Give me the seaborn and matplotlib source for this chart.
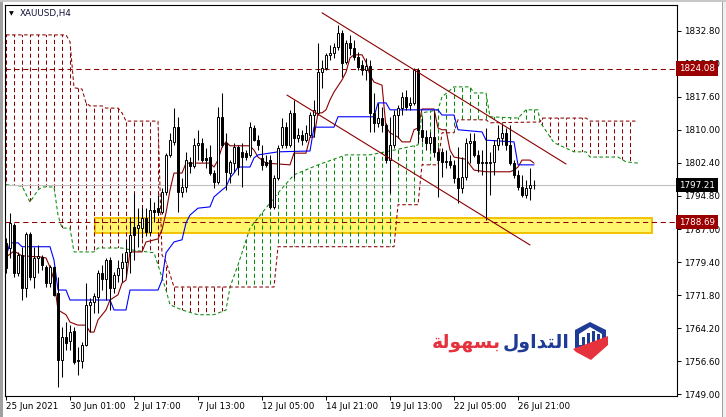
import numpy as np
import matplotlib
matplotlib.use('Agg')
import matplotlib.pyplot as plt
import matplotlib.transforms as mtransforms
from matplotlib.patches import Polygon, Rectangle
from matplotlib.collections import LineCollection
import seaborn as sns

# ---------------- data (XAUUSD H4, bar 0 = 25 Jun 2021) ----------------
opens = [1783.9, 1782.7, 1788.0, 1777.0, 1781.1, 1773.5, 1786.0, 1776.0, 1780.4, 1780.6,
         1778.3, 1774.6, 1778.3, 1772.3, 1756.9, 1762.2, 1761.3, 1763.6, 1756.9, 1756.6,
         1760.3, 1769.6, 1770.3, 1771.4, 1777.0, 1775.6, 1779.9, 1773.5, 1776.5, 1778.1,
         1779.5, 1781.8, 1787.6, 1787.3, 1787.3, 1789.6, 1786.4, 1791.5, 1792.0, 1791.0,
         1795.6, 1804.2, 1807.2, 1810.6, 1795.6, 1796.8, 1802.6, 1801.7, 1806.5, 1807.0,
         1803.5, 1803.7, 1800.0, 1797.9, 1813.0, 1807.0, 1800.0, 1802.3, 1806.0, 1804.9,
         1804.6, 1804.2, 1810.4, 1807.6, 1803.5, 1802.6, 1803.0, 1792.2, 1798.9, 1806.5,
         1810.6, 1806.5, 1813.9, 1808.1, 1808.8, 1807.6, 1808.8, 1813.4, 1813.9, 1823.3,
         1824.3, 1827.3, 1827.7, 1829.1, 1832.3, 1825.6, 1830.0, 1828.9, 1826.8, 1825.0,
         1823.8, 1824.7, 1813.9, 1811.6, 1812.7, 1811.1, 1803.0, 1806.5, 1813.4, 1815.0,
         1817.6, 1815.7, 1816.2, 1823.8, 1810.0, 1808.3, 1807.0, 1808.3, 1804.9, 1804.9,
         1802.6, 1802.8, 1801.9, 1798.9, 1796.6, 1799.1, 1807.0, 1807.4, 1804.2, 1802.3,
         1802.6, 1802.3, 1802.6, 1806.5, 1808.1, 1809.3, 1806.5, 1802.3, 1799.6, 1796.8,
         1794.9, 1796.6, 1797.3]
highs = [1785.0, 1790.8, 1788.5, 1781.8, 1783.0, 1786.4, 1786.4, 1783.0, 1783.4, 1781.1,
         1778.8, 1778.8, 1778.6, 1776.0, 1764.5, 1765.6, 1764.9, 1764.5, 1759.9, 1761.0,
         1774.6, 1771.2, 1772.3, 1777.6, 1778.8, 1780.4, 1780.6, 1777.2, 1779.9, 1781.6,
         1784.6, 1789.9, 1795.4, 1792.0, 1792.0, 1792.0, 1794.3, 1793.3, 1794.9, 1796.6,
         1804.6, 1809.3, 1815.0, 1813.0, 1798.9, 1804.9, 1803.7, 1808.1, 1810.0, 1808.1,
         1805.8, 1806.5, 1800.7, 1815.3, 1818.5, 1809.3, 1803.0, 1807.0, 1806.5, 1807.0,
         1805.3, 1811.8, 1811.1, 1808.8, 1806.5, 1804.2, 1804.2, 1799.6, 1806.5, 1812.7,
         1811.8, 1814.6, 1816.9, 1810.4, 1810.0, 1811.1, 1814.1, 1816.9, 1830.0, 1826.1,
         1827.7, 1829.6, 1830.0, 1834.2, 1833.0, 1830.7, 1831.9, 1830.7, 1828.0, 1826.1,
         1826.6, 1826.1, 1818.5, 1816.2, 1815.3, 1811.6, 1813.0, 1814.6, 1815.7, 1818.7,
         1819.2, 1817.6, 1824.3, 1824.3, 1812.7, 1810.0, 1809.5, 1814.1, 1806.0, 1805.8,
         1805.3, 1804.2, 1803.0, 1806.0, 1803.7, 1808.1, 1809.3, 1809.3, 1805.3, 1805.3,
         1810.4, 1804.9, 1807.6, 1811.1, 1811.6, 1810.4, 1811.1, 1803.0, 1800.7, 1799.6,
         1798.4, 1801.2, 1798.4]
lows = [1777.0, 1780.4, 1776.0, 1776.3, 1770.7, 1771.4, 1775.3, 1773.5, 1777.0, 1777.6,
        1773.7, 1773.7, 1771.6, 1750.6, 1753.0, 1759.2, 1759.2, 1755.9, 1753.4, 1755.0,
        1760.0, 1763.3, 1767.7, 1767.7, 1773.0, 1770.7, 1768.4, 1772.3, 1774.9, 1774.9,
        1776.0, 1777.0, 1779.9, 1783.0, 1785.1, 1785.5, 1785.7, 1788.7, 1790.3, 1790.5,
        1794.9, 1803.7, 1806.5, 1791.0, 1794.5, 1795.6, 1800.0, 1801.2, 1803.0, 1802.6,
        1801.2, 1799.6, 1796.6, 1797.5, 1806.0, 1796.1, 1797.7, 1800.3, 1799.6, 1796.8,
        1803.0, 1803.7, 1807.4, 1805.3, 1800.7, 1801.4, 1791.7, 1791.7, 1798.4, 1805.8,
        1805.8, 1806.0, 1798.9, 1807.2, 1806.5, 1807.2, 1808.3, 1808.3, 1813.4, 1819.7,
        1823.8, 1826.1, 1826.6, 1828.4, 1822.2, 1825.2, 1827.3, 1826.1, 1823.8, 1822.7,
        1821.5, 1809.5, 1809.5, 1810.6, 1809.5, 1802.3, 1795.4, 1805.8, 1808.1, 1813.4,
        1814.6, 1814.6, 1815.7, 1807.0, 1807.2, 1805.3, 1805.3, 1803.7, 1794.5, 1799.1,
        1801.2, 1801.2, 1797.7, 1793.1, 1795.4, 1798.4, 1802.3, 1803.7, 1800.3, 1799.6,
        1789.2, 1794.9, 1799.6, 1805.3, 1806.5, 1805.3, 1801.9, 1798.9, 1796.1, 1794.5,
        1794.3, 1793.8, 1796.3]
closes = [1778.1, 1788.5, 1777.0, 1781.1, 1773.5, 1786.0, 1776.0, 1780.4, 1780.9, 1778.8,
          1774.6, 1778.3, 1771.9, 1756.9, 1762.2, 1760.8, 1763.3, 1756.4, 1756.6, 1760.3,
          1769.6, 1770.3, 1771.6, 1777.0, 1775.6, 1779.9, 1773.5, 1776.5, 1778.1, 1779.5,
          1781.8, 1785.7, 1785.7, 1788.0, 1789.6, 1786.4, 1791.5, 1791.0, 1791.0, 1795.6,
          1804.2, 1807.6, 1810.6, 1795.6, 1796.8, 1803.0, 1801.7, 1806.5, 1807.0, 1803.0,
          1803.0, 1800.0, 1797.9, 1813.0, 1806.5, 1800.3, 1802.6, 1806.0, 1801.4, 1803.7,
          1803.7, 1810.6, 1807.6, 1806.5, 1801.9, 1801.9, 1792.2, 1798.9, 1805.8, 1810.6,
          1806.5, 1813.9, 1808.1, 1808.8, 1807.6, 1809.3, 1813.4, 1814.6, 1823.3, 1824.3,
          1827.3, 1827.7, 1829.1, 1832.3, 1825.4, 1830.0, 1828.9, 1826.8, 1824.5, 1823.8,
          1824.7, 1813.9, 1811.6, 1812.7, 1811.1, 1803.0, 1806.5, 1813.4, 1815.0, 1817.6,
          1815.3, 1816.2, 1823.8, 1810.0, 1808.3, 1807.0, 1808.3, 1804.9, 1803.0, 1802.6,
          1802.8, 1801.9, 1798.9, 1796.6, 1799.1, 1807.0, 1807.4, 1804.2, 1802.3, 1802.6,
          1802.3, 1802.6, 1806.5, 1808.1, 1809.3, 1806.5, 1802.3, 1799.6, 1796.8, 1794.9,
          1796.6, 1797.3, 1797.21]

# Ichimoku lines (bar index, price)
tenkan_i = [0, 2, 4, 9, 10, 11, 12, 13, 15, 16, 18, 20, 21, 22, 23, 25, 26, 28, 29, 30,
            31, 34, 35, 38, 39, 40, 41, 42, 44, 45, 51, 52, 53, 54, 55, 56, 61, 62, 63, 65,
            71, 72, 75, 76, 77, 78, 79, 80, 81, 82, 84, 85, 86, 87, 89, 90, 91, 92, 94, 95,
            96, 98, 99, 101, 102, 103, 104, 107, 108, 109, 110, 111, 112, 115, 116, 117, 120,
            126, 127, 128, 129, 131, 132]
tenkan_p = [1780.6, 1782.0, 1780.9, 1780.6, 1780.4, 1778.3, 1775.3, 1768.4, 1767.3, 1765.6,
            1764.9, 1764.9, 1763.3, 1763.3, 1766.1, 1768.4, 1770.7, 1771.9, 1774.6, 1775.3,
            1781.8, 1781.8, 1784.1, 1784.8, 1786.9, 1790.8, 1796.1, 1800.0, 1800.0, 1802.3,
            1802.3, 1801.4, 1803.0, 1806.0, 1807.2, 1806.3, 1806.3, 1805.3, 1803.7, 1802.3,
            1801.9, 1804.6, 1804.6, 1808.3, 1808.3, 1813.9, 1813.9, 1814.6, 1816.9, 1818.7,
            1821.5, 1823.3, 1826.6, 1827.3, 1827.3, 1825.6, 1822.6, 1821.0, 1820.3, 1810.6,
            1809.3, 1808.3, 1807.2, 1807.2, 1810.0, 1810.4, 1814.8, 1814.8, 1810.4, 1810.0,
            1810.0, 1805.3, 1803.7, 1803.2, 1801.9, 1800.7, 1800.3, 1800.3, 1800.7, 1801.4,
            1803.0, 1803.0, 1802.3]
kijun_i = [0, 1, 3, 4, 11, 12, 13, 15, 16, 26, 27, 30, 31, 38, 39, 40, 42, 44, 45, 46,
           48, 51, 52, 54, 55, 56, 57, 58, 61, 62, 63, 68, 76, 77, 82, 83, 92, 93, 95, 96,
           108, 109, 112, 113, 119, 120, 127, 128, 132]
kijun_p = [1780.6, 1783.9, 1783.9, 1783.0, 1783.0, 1779.9, 1773.0, 1773.0, 1770.7, 1770.7,
           1768.4, 1768.4, 1773.0, 1773.0, 1775.3, 1781.6, 1784.1, 1784.6, 1788.5, 1790.3,
           1791.9, 1792.2, 1794.5, 1796.1, 1796.8, 1798.9, 1800.0, 1801.4, 1801.4, 1803.5,
           1804.2, 1804.9, 1805.1, 1810.6, 1810.6, 1813.0, 1813.0, 1816.2, 1816.2, 1814.6,
           1814.6, 1813.4, 1813.4, 1810.0, 1809.5, 1807.6, 1807.2, 1801.9, 1801.9]
spanA_i = [0, 4, 6, 8, 9, 12, 13, 14, 16, 17, 22, 23, 29, 31, 37, 38, 40, 41, 44, 48,
           52, 55, 56, 58, 61, 64, 68, 72, 78, 85, 91, 97, 103, 104, 108, 109, 112, 116, 117, 120,
           121, 128, 130, 133, 133.5, 137, 142, 145, 146, 153, 155, 158]
spanA_p = [1797.3, 1797.0, 1793.3, 1796.1, 1796.8, 1796.8, 1790.3, 1787.3, 1787.3, 1781.8,
           1781.8, 1782.7, 1782.7, 1782.3, 1781.6, 1778.8, 1773.0, 1769.6, 1768.4, 1767.3,
           1767.3, 1768.4, 1773.7, 1778.8, 1787.3, 1790.8, 1795.4, 1799.6, 1801.9, 1804.2,
           1804.2, 1805.3, 1806.5, 1813.9, 1814.6, 1817.6, 1819.9, 1819.9, 1818.5, 1818.5,
           1813.0, 1812.7, 1814.6, 1814.6, 1811.8, 1807.0, 1804.9, 1804.9, 1803.7, 1803.7,
           1802.6, 1802.3]
spanB_i = [0, 15, 16, 17, 19, 20, 21, 24, 25, 28, 29, 30, 38, 39, 40, 42, 56, 67, 68, 97,
           98, 103, 104, 108, 109, 112, 113, 120, 121, 133.5, 134, 145, 146, 158]
spanB_p = [1831.9, 1831.9, 1830.3, 1819.7, 1819.4, 1816.2, 1815.5, 1815.5, 1815.0, 1815.0,
           1813.9, 1812.0, 1812.0, 1781.1, 1779.5, 1773.7, 1773.7, 1773.7, 1783.0, 1783.0,
           1792.7, 1792.7, 1801.9, 1801.9, 1809.3, 1809.3, 1812.3, 1812.3, 1811.6, 1811.8,
           1812.7, 1812.7, 1812.0, 1812.0]
cloud_cross = [56, 133.5]  # bars where span A and span B meet

tick_bars = [0, 16, 32, 48, 64, 80, 96, 112, 128]
tick_dates = ['25 Jun 2021', '30 Jun 01:00', '2 Jul 17:00', '7 Jul 13:00', '12 Jul 05:00',
              '14 Jul 21:00', '19 Jul 13:00', '22 Jul 05:00', '26 Jul 21:00']
price_ticks = [1832.8, 1825.2, 1817.6, 1810.0, 1802.4, 1794.8, 1787.0, 1779.4, 1771.8,
               1764.2, 1756.6, 1749.0]

level_high = 1824.08
level_low = 1788.69
last_price = 1797.21
zone_bars = [22.25, 161.5]
zone_prices = [1786.2, 1789.65]
trend_upper_i = [79, 140]
trend_upper_p = [1837.0, 1802.1]
trend_lower_i = [70.25, 131]
trend_lower_p = [1818.0, 1783.4]

# ---------------- style ----------------
sns.set_theme(style='white')
plt.rcParams['font.family'] = ['DejaVu Sans']

RED = '#8b0000'
GREEN = '#0a8a0a'
BLUE = '#0000ff'

W, H = 726, 417
fig = plt.figure(figsize=(W / 100, H / 100), dpi=100)
fig.patch.set_facecolor('white')
ax = fig.add_axes([5 / W, 21 / H, 672 / W, 391 / H])
ax.set_facecolor('white')
ax.set_xlim(-0.25, 167.75)
ax.set_ylim(1748.54, 1838.8)
ylo, yhi = ax.get_ylim()

# yellow zone
ax.add_patch(Rectangle((zone_bars[0], zone_prices[0]), zone_bars[1] - zone_bars[0],
                       zone_prices[1] - zone_prices[0], facecolor='#fff66e',
                       edgecolor='#f2c200', lw=1.4, zorder=0.5))


# cloud: vertical dotted hatch clipped to the area between the spans
def cloud_poly(lo, hi):
    a = [(i, p) for i, p in zip(spanA_i, spanA_p) if lo <= i <= hi]
    b = [(i, p) for i, p in zip(spanB_i, spanB_p) if lo <= i <= hi]
    return a + b[::-1]


regions = [(0, cloud_cross[0], RED), (cloud_cross[0], cloud_cross[1], GREEN),
           (cloud_cross[1], spanA_i[-1], RED)]
hatch_bars = np.arange(0, spanA_i[-1] + 1, 2)
for lo, hi, col in regions:
    poly = Polygon(cloud_poly(lo, hi), closed=True, facecolor='none', edgecolor='none')
    ax.add_patch(poly)
    segs = [[(b, yhi), (b, ylo)] for b in hatch_bars if lo <= b <= hi]
    lc = LineCollection(segs, colors=col, linewidths=0.75, linestyles=[(0, (4.0, 2.6))],
                        zorder=1)
    lc.set_clip_path(poly)
    ax.add_collection(lc)

ax.plot(spanA_i, spanA_p, color=GREEN, lw=0.75, ls=(0, (3.4, 2.4)), zorder=1.2)
ax.plot(spanB_i, spanB_p, color=RED, lw=0.75, ls=(0, (3.4, 2.4)), zorder=1.2)

# horizontal levels and bid line
ax.axhline(level_high, color=RED, lw=0.75, ls=(0, (5, 3.5)), zorder=1.5)
ax.axhline(level_low, color=RED, lw=0.75, ls=(0, (5, 3.5)), zorder=1.5)
ax.axhline(last_price, color='#c0c0c0', lw=0.8, zorder=1.4)

# tenkan / kijun
sns.lineplot(x=tenkan_i, y=tenkan_p, ax=ax, color=RED, lw=0.8, estimator=None,
             sort=False, zorder=2)
sns.lineplot(x=kijun_i, y=kijun_p, ax=ax, color=BLUE, lw=0.8, estimator=None,
             sort=False, zorder=2)

# candles
o = np.array(opens)
h = np.array(highs)
l = np.array(lows)
c = np.array(closes)
idx = np.arange(len(c))
up = c >= o
ax.vlines(idx, l, h, color='black', lw=0.75, zorder=3)
ax.bar(idx[up], (c - o)[up], bottom=o[up], width=0.66, facecolor='white',
       edgecolor='black', lw=0.7, zorder=4)
ax.bar(idx[~up], (o - c)[~up], bottom=c[~up], width=0.66, facecolor='black',
       edgecolor='black', lw=0.7, zorder=4)

# channel lines
ax.plot(trend_upper_i, trend_upper_p, color=RED, lw=0.8, zorder=5)
ax.plot(trend_lower_i, trend_lower_p, color=RED, lw=0.8, zorder=5)

# axes
for s in ax.spines.values():
    s.set_color('black')
    s.set_linewidth(0.8)
ax.yaxis.tick_right()
ax.set_yticks(price_ticks)
ax.set_yticklabels([f'{p:.2f}' for p in price_ticks])
ax.set_xticks(tick_bars)
ax.set_xticklabels(tick_dates)
for lab in ax.get_xticklabels():
    lab.set_horizontalalignment('left')
ax.tick_params(axis='y', which='both', right=True, left=False, length=3, width=0.7,
               pad=2, labelsize=6.3, colors='black')
ax.tick_params(axis='x', which='both', bottom=True, length=3, width=0.7, pad=1.5,
               labelsize=6.3, colors='black')
ax.set_xlabel('')
ax.set_ylabel('')
ax.grid(False)

# price tags on the axis (figure-level so they sit above the tick labels)
trans = mtransforms.blended_transform_factory(ax.transAxes, ax.transData)
for val, bg in [(level_high, '#9b0000'), (last_price, 'black'), (level_low, '#9b0000')]:
    fig.text(1.003, val, f'{val:.2f}', transform=trans, ha='left', va='center',
             color='white', fontsize=6.3, zorder=10,
             bbox=dict(boxstyle='square,pad=0.32', fc=bg, ec='none'))

# symbol title
ax.text(0.006, 0.978, '\u25bc', transform=ax.transAxes, fontsize=4.5, color='black',
        va='center', ha='left')
ax.text(0.022, 0.978, 'XAUUSD,H4', transform=ax.transAxes, fontsize=6.3, color='#101038',
        va='center', ha='left')


# logo (figure pixel coords)
def px(x, y):
    return (x / W, 1 - y / H)


fig.text(*px(501, 348), '\ufe94\ufedf\ufeee\ufeec\ufeb4\ufe91', color='#e5323c',
         fontsize=13.5, fontweight='bold', ha='right', va='baseline')
fig.text(*px(570, 348), '\ufedd\ufeed\ufe8d\ufeaa\ufe98\ufedf\ufe8d', color='#1e3b96',
         fontsize=13.5, fontweight='bold', ha='right', va='baseline')
hexagon = [px(575, 330), px(590, 322), px(606, 330), px(606, 346), px(590, 356), px(575, 348)]
fig.add_artist(Polygon(hexagon, closed=True, transform=fig.transFigure, fc='#1e3b96', ec='none'))
inner = [px(579, 334), px(590, 327), px(602, 334), px(602, 345), px(579, 345)]
fig.add_artist(Polygon(inner, closed=True, transform=fig.transFigure, fc='white', ec='none'))
for bx, top in [(582, 337), (587, 333), (592, 331), (597, 334)]:
    bar = [px(bx, top), px(bx + 3, top), px(bx + 3, 345), px(bx, 345)]
    fig.add_artist(Polygon(bar, closed=True, transform=fig.transFigure, fc='#1e3b96', ec='none'))
swoosh = [px(573, 349), px(608, 336), px(608, 345), px(591, 360), px(576, 352)]
fig.add_artist(Polygon(swoosh, closed=True, transform=fig.transFigure, fc='#e5323c', ec='none'))

# window chrome
fig.add_artist(Rectangle(px(0, 417), 3 / W, 1, transform=fig.transFigure, fc='#a0a0a0', ec='none'))
fig.add_artist(Rectangle(px(723, 417), 3 / W, 1, transform=fig.transFigure, fc='#f0f0f0', ec='none'))
fig.add_artist(Rectangle(px(722, 417), 1 / W, 1, transform=fig.transFigure, fc='#a0a0a0', ec='none'))
fig.add_artist(Rectangle(px(0, 2), 1, 2 / H, transform=fig.transFigure, fc='#c8c8c8', ec='none'))

fig.savefig('out.png', dpi=100)
